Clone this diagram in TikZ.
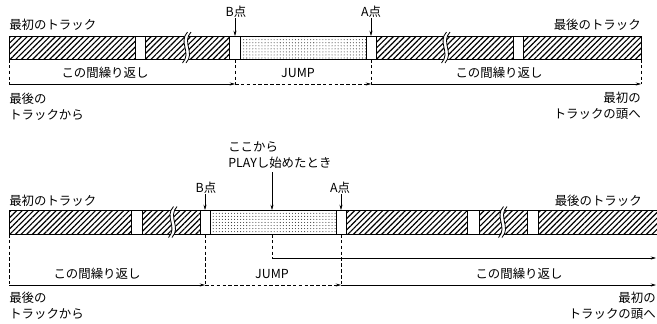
\documentclass[tikz,border=0pt]{standalone}
\usepackage{fontspec}
\setmainfont{Noto Sans CJK JP}
\usetikzlibrary{arrows.meta,patterns.meta}

\tikzset{
  hatch/.style={pattern={Lines[angle=45,distance=3.4pt,line width=1pt]}},
  dotfill/.style={pattern={Dots[distance=2.6pt,radius=0.45pt]},pattern color=black!80},
  arr/.style={-{Stealth[length=4.5pt,width=2.6pt]}},
  dsh/.style={dash pattern=on 3pt off 2pt},
  brk/.pic={
    \fill[white] (2.5,-15.5) .. controls (-7,-5) and (7,5) .. (-2.5,15.5)
      -- (1,15.5) .. controls (10.5,5) and (-3.5,-5) .. (6,-15.5) -- cycle;
    \draw[line width=0.7pt] (2.5,-15.5) .. controls (-7,-5) and (7,5) .. (-2.5,15.5);
    \draw[line width=0.7pt] (6,-15.5) .. controls (-3.5,-5) and (10.5,5) .. (1,15.5);
  },
}

\begin{document}
\begin{tikzpicture}[x=0.03cm,y=-0.03cm,line width=0.5pt,
    every node/.style={font=\fontsize{10.6pt}{14pt}\selectfont,inner sep=0pt}]
  \useasboundingbox (0,0) rectangle (657,323);

  % upper strip
  \foreach \a/\b in {9/135,145/229,376/513,523/641}
    \fill[hatch] (\a,36) rectangle (\b,59);
  \fill[dotfill] (240,36) rectangle (366,59);
  \draw[line width=0.7pt] (9,36) rectangle (641,59);
  \foreach \p in {135,145,229,240,366,376,513,523}
    \draw[line width=0.7pt] (\p,36) -- (\p,59);
  \pic at (185,47.5) {brk};
  \pic at (444,47.5) {brk};

  \node[anchor=west] (firstA) at (9,25) {最初のトラック};
  \node[anchor=east] (lastA) at (641,25) {最後のトラック};
  \node (bA) at (236,12) {B点};
  \node (aA) at (371,12) {A点};
  \coordinate (bAt) at (235,36);
  \coordinate (aAt) at (371,36);
  \draw[arr] (bA.south -| bAt) -- (bAt);
  \draw[arr] (aA.south -| aAt) -- (aAt);

  \foreach \p in {9,235,371,641}
    \draw[dsh] (\p,59) -- (\p,84);
  \coordinate (l0) at (9,84);
  \coordinate (l1) at (235,84);
  \coordinate (l2) at (371,84);
  \coordinate (l3) at (641,84);
  \draw[arr] (l0) -- (l1);
  \draw[arr,dsh] (l1) -- (l2);
  \draw[arr] (l2) -- (l3);
  \node (repA1) at (105,73) {この間繰り返し};
  \node (jumpA) at (298,73) {JUMP};
  \node (repA2) at (499,73) {この間繰り返し};
  \node[anchor=west,align=left] (fromA) at (9,106.5) {最後の\\トラックから};
  \node[anchor=east,align=right] (toA) at (641,105.5) {最初の\\トラックの頭へ};

  % lower strip
  \foreach \a/\b in {9/131,142/200,346/467,479/527,538/657}
    \fill[hatch] (\a,210) rectangle (\b,234);
  \fill[dotfill] (210,210) rectangle (336,234);
  \draw[line width=0.7pt] (657,210) -- (9,210) -- (9,234) -- (657,234);
  \foreach \p in {131,142,200,210,336,346,467,479,527,538}
    \draw[line width=0.7pt] (\p,210) -- (\p,234);
  \pic at (171,222) {brk};
  \pic at (501,222) {brk};

  \node[anchor=west] (firstB) at (9,201) {最初のトラック};
  \node[anchor=east] (lastB) at (642,201) {最後のトラック};
  \node (bB) at (206,188) {B点};
  \node (aB) at (340,188) {A点};
  \node[anchor=west,align=left] (play) at (228,155) {ここから\\PLAYし始めたとき};
  \coordinate (bBt) at (205,210);
  \coordinate (aBt) at (341,210);
  \coordinate (pBt) at (272,210);
  \draw[arr] (bB.south -| bBt) -- (bBt);
  \draw[arr] (aB.south -| aBt) -- (aBt);
  \draw[arr] ([yshift=-3pt]play.south -| pBt) -- (pBt);

  \foreach \p in {9,205,341}
    \draw[dsh] (\p,234) -- (\p,285);
  \coordinate (p0) at (272,234);
  \coordinate (p1) at (272,258);
  \coordinate (p2) at (656,258);
  \draw[dsh] (p0) -- (p1);
  \draw[arr] (p1) -- (p2);
  \coordinate (m0) at (9,285);
  \coordinate (m1) at (205,285);
  \coordinate (m2) at (341,285);
  \coordinate (m3) at (656,285);
  \draw[arr] (m0) -- (m1);
  \draw[arr,dsh] (m1) -- (m2);
  \draw[arr] (m2) -- (m3);
  \node (repB1) at (97,274) {この間繰り返し};
  \node (jumpB) at (272,274) {JUMP};
  \node (repB2) at (519,274) {この間繰り返し};
  \node[anchor=west,align=left] (fromB) at (9,306) {最後の\\トラックから};
  \node[anchor=east,align=right] (toB) at (656,305.5) {最初の\\トラックの頭へ};
\end{tikzpicture}
\end{document}
